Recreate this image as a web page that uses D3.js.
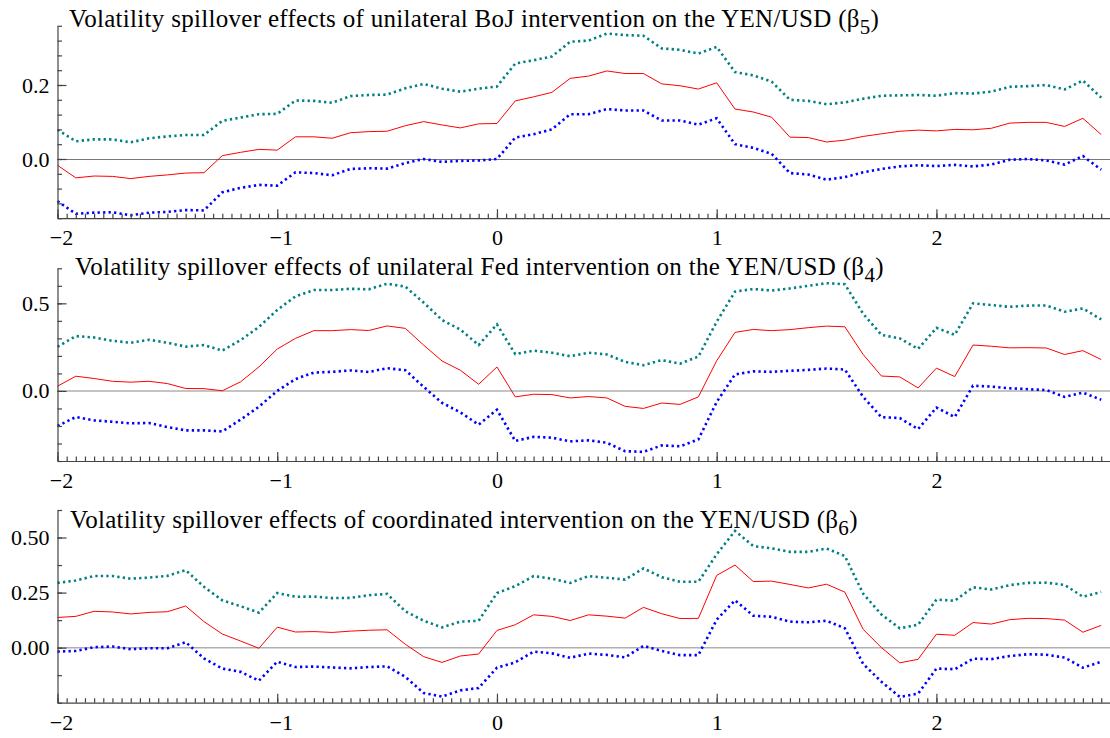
<!DOCTYPE html>
<html>
<head>
<meta charset="utf-8">
<script src="https://cdn.jsdelivr.net/npm/d3@7"></script>
<style>
html, body { margin: 0; padding: 0; background: #fff; }
svg { display: block; font-family: "Liberation Serif", "Times New Roman", serif; }
</style>
</head>
<body>
<svg id="chart" width="1110" height="738"></svg>
<script>
// ---------- DATA ----------
// lag in months (x axis value = month / 12)
const months = [-24,-23,-22,-21,-20,-19,-18,-17,-16,-15,-14,-13,-12,-11,-10,-9,-8,-7,-6,-5,-4,-3,-2,-1,
  0,1,2,3,4,5,6,7,8,9,10,11,12,13,14,15,16,17,18,19,20,21,22,23,24,25,26,27,28,29,30,31,32,33];

const titles = [
  "Volatility spillover effects of unilateral BoJ intervention on the YEN/USD (\u03b2",
  "Volatility spillover effects of unilateral Fed intervention on the YEN/USD (\u03b2",
  "Volatility spillover effects of coordinated intervention on the YEN/USD (\u03b2"
];
const titleSubs = ["5", "4", "6"];

const xTickLabels = [-2, -1, 0, 1, 2];
const yTickLabels1 = [0, 0.2];
const yTickLabels2 = [0, 0.5];
const yTickLabels3 = [0, 0.25, 0.5];

// Panel 1: BoJ
const bojEst = [-0.017,-0.051,-0.046,-0.047,-0.053,-0.047,-0.043,-0.038,-0.037,0.009,0.018,0.026,0.024,0.060,0.060,0.056,0.071,0.074,0.075,0.090,0.101,0.092,0.084,0.095,0.096,0.157,0.168,0.180,
  0.218,0.224,0.238,0.231,0.231,0.203,0.198,0.189,0.206,0.135,0.127,0.113,0.059,0.058,0.046,0.051,0.061,0.068,0.075,0.078,0.076,0.080,0.079,0.083,0.097,0.099,0.099,0.088,0.110,0.066];
const bojUpper = [0.079,0.048,0.053,0.053,0.045,0.056,0.061,0.065,0.065,0.103,0.112,0.121,0.122,0.158,0.157,0.152,0.170,0.173,0.174,0.191,0.203,0.190,0.182,0.190,0.196,0.258,0.267,0.277,
  0.317,0.320,0.339,0.335,0.333,0.299,0.295,0.285,0.303,0.235,0.226,0.209,0.160,0.157,0.148,0.153,0.163,0.171,0.172,0.173,0.171,0.178,0.177,0.182,0.195,0.197,0.200,0.188,0.212,0.166];
const bojLower = [-0.114,-0.148,-0.145,-0.144,-0.152,-0.145,-0.143,-0.138,-0.139,-0.090,-0.078,-0.070,-0.072,-0.036,-0.038,-0.044,-0.027,-0.025,-0.026,-0.011,0.000,-0.008,-0.005,-0.004,0.000,0.058,0.067,0.080,
  0.121,0.121,0.135,0.131,0.131,0.104,0.104,0.093,0.110,0.040,0.030,0.014,-0.038,-0.042,-0.056,-0.049,-0.036,-0.027,-0.020,-0.017,-0.019,-0.016,-0.020,-0.015,-0.002,0.000,-0.004,-0.015,0.008,-0.029];

// Panel 2: Fed
const fedEst = [0.027,0.084,0.071,0.055,0.050,0.055,0.042,0.014,0.013,0.001,0.052,0.137,0.239,0.300,0.344,0.344,0.350,0.345,0.371,0.357,0.261,0.171,0.118,0.038,0.137,-0.034,-0.019,-0.021,
  -0.040,-0.032,-0.040,-0.088,-0.100,-0.069,-0.077,-0.034,0.172,0.334,0.351,0.344,0.350,0.361,0.370,0.366,0.208,0.085,0.080,0.017,0.130,0.082,0.262,0.255,0.246,0.247,0.245,0.208,0.230,0.179];
const fedUpper = [0.252,0.313,0.305,0.286,0.275,0.292,0.275,0.253,0.262,0.230,0.290,0.365,0.462,0.540,0.576,0.576,0.583,0.580,0.612,0.595,0.504,0.405,0.350,0.262,0.380,0.210,0.230,0.218,
  0.198,0.218,0.208,0.166,0.147,0.176,0.156,0.196,0.395,0.567,0.582,0.573,0.585,0.600,0.615,0.609,0.440,0.320,0.300,0.240,0.360,0.320,0.500,0.490,0.480,0.487,0.488,0.452,0.471,0.408];
const fedLower = [-0.200,-0.149,-0.168,-0.176,-0.185,-0.183,-0.206,-0.225,-0.225,-0.231,-0.164,-0.090,0.000,0.068,0.105,0.109,0.117,0.108,0.130,0.118,0.023,-0.068,-0.122,-0.193,-0.107,-0.286,-0.262,-0.267,
  -0.288,-0.282,-0.296,-0.344,-0.348,-0.311,-0.316,-0.277,-0.063,0.094,0.112,0.109,0.115,0.120,0.128,0.122,-0.034,-0.150,-0.155,-0.218,-0.095,-0.149,0.030,0.025,0.015,0.010,0.005,-0.034,-0.010,-0.050];

// Panel 3: coordinated
const coordEst = [0.137,0.142,0.165,0.162,0.153,0.160,0.163,0.189,0.118,0.062,0.030,-0.003,0.093,0.071,0.073,0.069,0.075,0.079,0.081,0.015,-0.041,-0.067,-0.038,-0.029,0.078,0.104,0.149,0.142,
  0.123,0.149,0.143,0.134,0.183,0.154,0.132,0.133,0.328,0.375,0.300,0.302,0.287,0.271,0.288,0.252,0.083,0.000,-0.069,-0.053,0.061,0.056,0.114,0.107,0.127,0.133,0.132,0.125,0.070,0.101];
const coordUpper = [0.294,0.305,0.325,0.325,0.313,0.318,0.326,0.352,0.276,0.215,0.188,0.159,0.248,0.231,0.232,0.225,0.226,0.238,0.244,0.165,0.122,0.092,0.118,0.122,0.248,0.279,0.325,0.313,
  0.294,0.325,0.317,0.309,0.360,0.320,0.299,0.299,0.424,0.530,0.461,0.451,0.435,0.435,0.450,0.416,0.245,0.150,0.088,0.104,0.218,0.213,0.274,0.264,0.284,0.294,0.295,0.285,0.231,0.253];
const coordLower = [-0.018,-0.015,0.002,0.005,-0.007,-0.003,-0.003,0.025,-0.049,-0.095,-0.110,-0.150,-0.064,-0.088,-0.086,-0.090,-0.094,-0.088,-0.085,-0.133,-0.206,-0.222,-0.194,-0.183,-0.091,-0.067,-0.018,-0.026,
  -0.046,-0.027,-0.033,-0.044,0.008,-0.015,-0.034,-0.034,0.127,0.215,0.145,0.140,0.118,0.115,0.122,0.088,-0.074,-0.155,-0.224,-0.209,-0.095,-0.098,-0.050,-0.052,-0.038,-0.030,-0.032,-0.045,-0.091,-0.064];

// ---------- LAYOUT ----------
const panels = [
  { title: titles[0], sub: titleSubs[0], est: bojEst, up: bojUpper, lo: bojLower,
    yDomain: [-0.16, 0.36], yMinorStep: 0.04, yMajor: yTickLabels1, fmt: d3.format(".1f"),
    top: 25.8, bottom: 218.2, titleX: 69, titleY: 27, zeroColor: "#777", zeroWidth: 1, zeroCrisp: true },
  { title: titles[1], sub: titleSubs[1], est: fedEst, up: fedUpper, lo: fedLower,
    yDomain: [-0.4, 0.7], yMinorStep: 0.1, yMajor: yTickLabels2, fmt: d3.format(".1f"),
    top: 268.3, bottom: 461, titleX: 75, titleY: 275, zeroColor: "#b0b0b0", zeroWidth: 1.5, zeroCrisp: false },
  { title: titles[2], sub: titleSubs[2], est: coordEst, up: coordUpper, lo: coordLower,
    yDomain: [-0.25, 0.625], yMinorStep: 0.125, yMajor: yTickLabels3, fmt: d3.format(".2f"),
    top: 510, bottom: 702.7, titleX: 70, titleY: 528, zeroColor: "#b0b0b0", zeroWidth: 1.5, zeroCrisp: false }
];

const left = 57.5, right = 1110;
const lags = months.map(m => m / 12);
const x = d3.scaleLinear().domain([-2, 2.79]).range([left, right]);
const xMinor = d3.range(-48, 67).map(i => i / 24).filter(v => v >= -2 && v <= 2.79);

const svg = d3.select("#chart");
const axisColor = "#444";
const fontSize = 22;
const minus = s => s.replace("-", "\u2212");

panels.forEach(p => {
  const y = d3.scaleLinear().domain(p.yDomain).range([p.bottom, p.top]);
  const g = svg.append("g");

  // zero line
  const y0 = p.zeroCrisp ? Math.floor(y(0)) + 0.5 : y(0);
  g.append("line")
    .attr("x1", left).attr("x2", right)
    .attr("y1", y0).attr("y2", y0)
    .attr("stroke", p.zeroColor).attr("stroke-width", p.zeroWidth);

  const pts = (arr) => arr.map((v, i) => [lags[i], v]);
  const line = d3.line().x(d => x(d[0])).y(d => y(d[1]));

  g.append("path").datum(pts(p.up)).attr("d", line)
    .attr("fill", "none").attr("stroke", "#008080").attr("stroke-width", 2.6)
    .attr("stroke-dasharray", "2.3,3.2");
  g.append("path").datum(pts(p.lo)).attr("d", line)
    .attr("fill", "none").attr("stroke", "#0000ff").attr("stroke-width", 2.6)
    .attr("stroke-dasharray", "2.3,3.2");
  g.append("path").datum(pts(p.est)).attr("d", line)
    .attr("fill", "none").attr("stroke", "#ff0000").attr("stroke-width", 1);

  // y minor ticks
  const yMinor = d3.range(0, Math.round((p.yDomain[1] - p.yDomain[0]) / p.yMinorStep) + 1)
    .map(i => p.yDomain[0] + i * p.yMinorStep);
  const ayMinor = g.append("g").attr("transform", `translate(${left},0)`)
    .call(d3.axisLeft(y).tickValues(yMinor).tickSize(-4.5).tickSizeOuter(0).tickFormat(""));
  const ayMajor = g.append("g").attr("transform", `translate(${left},0)`)
    .call(d3.axisLeft(y).tickValues(p.yMajor).tickSize(-9).tickPadding(8).tickFormat(p.fmt));
  ayMajor.select(".domain").remove();

  // x axis
  const axMinor = g.append("g").attr("transform", `translate(0,${p.bottom})`)
    .call(d3.axisBottom(x).tickValues(xMinor).tickSize(-4.5).tickSizeOuter(0).tickFormat(""));
  const axMajor = g.append("g").attr("transform", `translate(0,${p.bottom})`)
    .call(d3.axisBottom(x).tickValues(xTickLabels).tickSize(-9).tickPadding(11.5)
      .tickFormat(d => minus(String(d))));
  axMajor.select(".domain").remove();
  axMajor.selectAll("text").attr("dx", d => d < 0 ? 3.5 : 0);

  [ayMinor, ayMajor, axMinor, axMajor].forEach(a => {
    a.attr("font-family", null).attr("font-size", null);
    a.selectAll("path, line").attr("stroke", axisColor).attr("stroke-width", 1.2);
    a.selectAll("text").attr("fill", "#000")
      .style("font-family", '"Liberation Serif", "Times New Roman", serif')
      .style("font-size", fontSize + "px");
  });

  // title
  const t = g.append("text")
    .attr("x", p.titleX).attr("y", p.titleY)
    .style("font-size", "25px").style("letter-spacing", "0.3px").attr("fill", "#000");
  t.append("tspan").text(p.title);
  t.append("tspan").attr("dy", 7).style("font-size", "21px").text(p.sub);
  t.append("tspan").attr("dy", -7).text(")");
});
</script>
</body>
</html>
